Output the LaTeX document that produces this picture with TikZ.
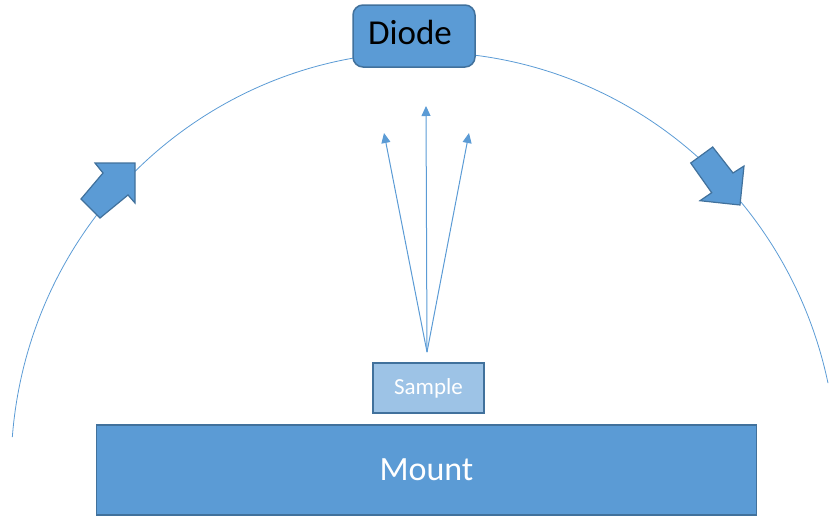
\documentclass[tikz,border=0pt]{standalone}
\usepackage{fontspec}
\setmainfont{Carlito}
\usetikzlibrary{arrows.meta}
\definecolor{fillblue}{HTML}{5B9BD5}
\definecolor{edgeblue}{HTML}{41719C}
\definecolor{lightblue}{HTML}{9DC3E6}
\tikzset{
  boxstyle/.style={draw=edgeblue, line width=1.5pt, fill=fillblue, inner sep=0pt},
  raystyle/.style={draw=fillblue, line width=1pt, -{Triangle[length=10pt,width=9pt]}},
  bigarrow/.style={draw=edgeblue, line width=1.2pt, fill=fillblue, line join=miter},
}
\begin{document}
\begin{tikzpicture}[x=1pt,y=-1pt]
\useasboundingbox (0,0) rectangle (830,517);
% arc
\draw[fillblue, line width=0.8pt] (12.3,437.2) arc[start angle=-175.5, end angle=-12, x radius=413, y radius=418];
% nodes
\node[boxstyle, rounded corners=10pt, minimum width=122pt, minimum height=62pt, text depth=8pt, font=\fontsize{35}{40}\selectfont, text=black] (diode) at (414,36) {Diode\hspace*{8pt}};
\node[boxstyle, fill=lightblue, minimum width=111pt, minimum height=50pt, font=\fontsize{23}{28}\selectfont, text=white] (sample) at (428.5,388) {Sample};
\node[boxstyle, minimum width=660pt, minimum height=90pt, font=\fontsize{34}{40}\selectfont, text=white] (mount) at (426.5,470) {Mount};
% rays
\coordinate (src) at (427,352);
\coordinate (rayL) at (384,133);
\coordinate (rayM) at (426,106);
\coordinate (rayR) at (469,133);
\draw[raystyle] (src) -- (rayL);
\draw[raystyle] (src) -- (rayM);
\draw[raystyle] (src) -- (rayR);
% block arrows
\draw[bigarrow] (95,163) -- (135,163) -- (135,203) -- (128,195) -- (100,218) -- (81,199) -- (103,173) -- cycle;
\draw[bigarrow] (690.7,163) -- (712.7,147) -- (733,173) -- (744,166) -- (740,205) -- (700,200.7) -- (711.7,192.7) -- cycle;
\end{tikzpicture}
\end{document}
